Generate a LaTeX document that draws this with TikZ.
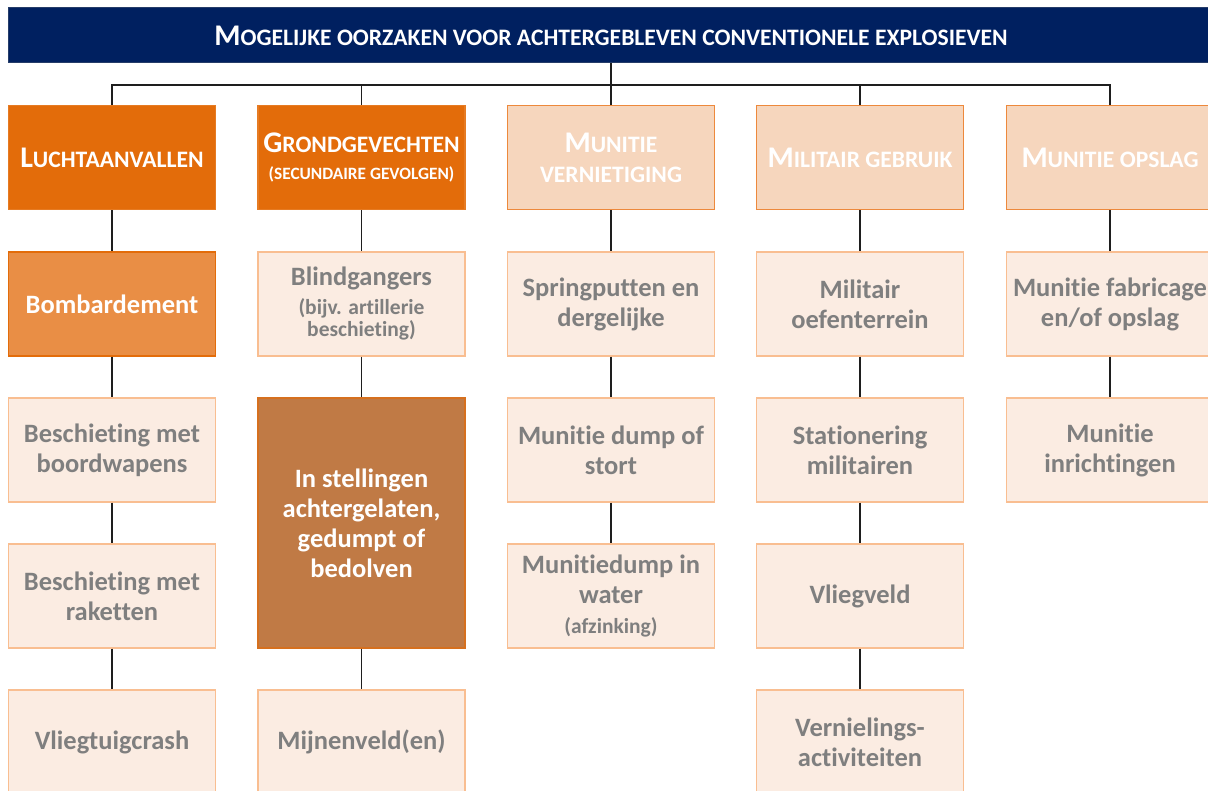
\documentclass[tikz,border=0pt]{standalone}
\usepackage{fontspec}
\setmainfont{Carlito}[Ligatures=NoCommon]
\definecolor{hdrblue}{RGB}{0,32,96}
\definecolor{darkor}{RGB}{227,108,10}
\definecolor{catfill}{RGB}{246,214,189}
\definecolor{catline}{RGB}{237,137,60}
\definecolor{bombfill}{RGB}{233,142,69}
\definecolor{palefill}{RGB}{251,236,226}
\definecolor{paleline}{RGB}{249,190,145}
\definecolor{stellfill}{RGB}{192,122,69}
\definecolor{stellline}{RGB}{214,112,30}
\definecolor{txtgray}{RGB}{127,127,127}
\definecolor{conn}{RGB}{30,30,30}
\newcommand\myfsc[2]{{\fontsize{30}{32}\selectfont #1}{\fontsize{23.6}{32}\selectfont #2}}
\newcommand\mysmall{\fontsize{23.6}{32}\selectfont}
\newcommand\subtxt{\fontsize{21.5}{22}\selectfont}
\tikzset{
  boxbase/.style={draw, line width=1.3pt, minimum width=207pt, minimum height=104pt,
    align=center, inner sep=2pt, font=\bfseries\fontsize{26.5}{30}\selectfont},
  catdark/.style={boxbase, fill=darkor, draw=darkor!90!white, text=white},
  catlight/.style={boxbase, fill=catfill, draw=catline, text=white},
  bombbox/.style={boxbase, fill=bombfill, draw=darkor, text=white},
  palebox/.style={boxbase, fill=palefill, draw=paleline, text=txtgray},
  stellbox/.style={boxbase, fill=stellfill, draw=stellline, text=white, minimum height=250pt},
  hdrbox/.style={draw=hdrblue!70!gray, line width=1pt, fill=hdrblue, text=white,
    minimum width=1206pt, minimum height=55pt, inner sep=0pt, font=\bfseries},
  link/.style={draw=conn, line width=1.3pt}
}
\begin{document}
\begin{tikzpicture}[x=1pt,y=-1pt]
\clip (0,0) rectangle (1208,791);
\fill[white] (0,0) rectangle (1208,791);
% header
\node[hdrbox] (hdr) at (611,35.5) {\myfsc{M}{OGELIJKE OORZAKEN VOOR ACHTERGEBLEVEN CONVENTIONELE EXPLOSIEVEN}};
% categories
\node[catdark] (c1) at (112,157.5) {\myfsc{L}{UCHTAANVALLEN}};
\node[catdark] (c2) at (361.5,157.5) {\myfsc{G}{RONDGEVECHTEN}\\[-3pt]{\fontsize{17.3}{22}\selectfont (SECUNDAIRE GEVOLGEN)}};
\node[catlight] (c3) at (611,157.5) {\myfsc{M}{UNITIE}\\{\mysmall VERNIETIGING}};
\node[catlight] (c4) at (860,157.5) {\myfsc{M}{ILITAIR GEBRUIK}};
\node[catlight] (c5) at (1110,157.5) {\myfsc{M}{UNITIE OPSLAG}};
% column 1
\node[bombbox] (a1) at (112,304) {Bombardement};
\node[palebox] (a2) at (112,450) {Beschieting met\\boordwapens};
\node[palebox] (a3) at (112,596) {Beschieting met\\raketten};
\node[palebox] (a4) at (112,742) {Vliegtuigcrash};
% column 2
\node[palebox] (b1) at (361.5,304) {Blindgangers\\[-1pt]{\subtxt (bijv. artillerie}\\[-8pt]{\subtxt beschieting)}};
\node[stellbox] (b2) at (361.5,523) {In stellingen\\achtergelaten,\\gedumpt of\\bedolven};
\node[palebox] (b3) at (361.5,742) {Mijnenveld(en)};
% column 3
\node[palebox] (m1) at (611,304) {Springputten en\\dergelijke};
\node[palebox] (m2) at (611,450) {Munitie dump of\\stort};
\node[palebox] (m3) at (611,596) {Munitiedump in\\water\\{\subtxt (afzinking)}};
% column 4
\node[palebox] (g1) at (860,304) {Militair\\oefenterrein};
\node[palebox] (g2) at (860,450) {Stationering\\militairen};
\node[palebox] (g3) at (860,596) {Vliegveld};
\node[palebox] (g4) at (860,742) {Vernielings-\\activiteiten};
% column 5
\node[palebox] (o1) at (1110,304) {Munitie fabricage\\en/of opslag};
\node[palebox] (o2) at (1110,450) {Munitie\\inrichtingen};
% connectors
\coordinate (bus) at (611,85);
\draw[link] (hdr.south) -- (c3.north);
\draw[link] (c1.north) |- (bus) -| (c5.north);
\draw[link] (c2.north) |- (bus);
\draw[link] (c4.north) |- (bus);
\draw[link] (c1.south) -- (a1.north);
\draw[link] (a1.south) -- (a2.north);
\draw[link] (a2.south) -- (a3.north);
\draw[link] (a3.south) -- (a4.north);
\draw[link] (c2.south) -- (b1.north);
\draw[link] (b1.south) -- (b2.north);
\draw[link] (b2.south) -- (b3.north);
\draw[link] (c3.south) -- (m1.north);
\draw[link] (m1.south) -- (m2.north);
\draw[link] (m2.south) -- (m3.north);
\draw[link] (c4.south) -- (g1.north);
\draw[link] (g1.south) -- (g2.north);
\draw[link] (g2.south) -- (g3.north);
\draw[link] (g3.south) -- (g4.north);
\draw[link] (c5.south) -- (o1.north);
\draw[link] (o1.south) -- (o2.north);
\end{tikzpicture}
\end{document}
